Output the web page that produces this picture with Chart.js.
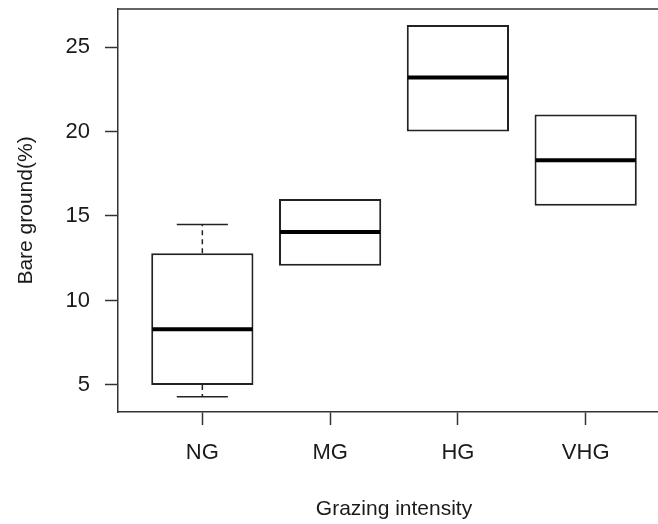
<!DOCTYPE html>
<html>
<head>
<meta charset="utf-8">
<script src="https://cdn.jsdelivr.net/npm/chart.js@4.4.1/dist/chart.umd.min.js"></script>
<style>
  html, body { margin: 0; padding: 0; background: #fff; overflow: hidden; }
  #wrap { width: 672px; height: 524px; }
</style>
</head>
<body>
<div id="wrap"><canvas id="myChart" width="672" height="524"></canvas></div>
<script>
// box plot values
const categories = ['NG', 'MG', 'HG', 'VHG']
const lowWhisker = [4.3, 12.05, 20.0, 15.6]
const q1 = [5.0, 12.05, 20.0, 15.6]
const median = [8.3, 14.05, 23.2, 18.3]
const q3 = [12.8, 16.0, 26.3, 21.0]
const highWhisker = [14.5, 16.0, 26.3, 21.0]
const yTicks = [5, 10, 15, 20, 25]
const yMin = 3.40
const yMax = 27.25

const ink = '#1a1a1a'
const titleFont = { family: "'Liberation Sans', Arial, sans-serif", size: 21 }
const tickFont = { family: "'Liberation Sans', Arial, sans-serif", size: 22 }

// medians, whiskers and the top frame line
const boxExtras = {
    id: 'boxExtras',
    afterDatasetsDraw(chart) {
        const ctx = chart.ctx
        const xs = chart.scales.x
        const ys = chart.scales.y
        const bars = chart.getDatasetMeta(0).data
        ctx.save()
        for (let i = 0; i < categories.length; i++) {
            const x = xs.getPixelForValue(i + 1)
            const half = bars[i].width / 2
            ctx.strokeStyle = '#222'
            ctx.lineWidth = 1.5
            const ends = [[q3[i], highWhisker[i]], [q1[i], lowWhisker[i]]]
            ends.forEach(([from, to]) => {
                if (from === to) return
                const fy = ys.getPixelForValue(from)
                const ty = ys.getPixelForValue(to)
                // dashed whisker
                ctx.setLineDash([5, 4])
                ctx.beginPath()
                ctx.moveTo(x, fy)
                ctx.lineTo(x, ty)
                ctx.stroke()
                ctx.setLineDash([])
                // staple
                ctx.beginPath()
                ctx.moveTo(x - half / 2, ty)
                ctx.lineTo(x + half / 2, ty)
                ctx.stroke()
            })
            // median
            ctx.lineWidth = 4
            ctx.strokeStyle = '#000'
            const my = ys.getPixelForValue(median[i])
            ctx.beginPath()
            ctx.moveTo(x - half + 1, my)
            ctx.lineTo(x + half - 1, my)
            ctx.stroke()
        }
        // frame top and right
        const a = chart.chartArea
        ctx.lineWidth = 1.5
        ctx.strokeStyle = '#333'
        ctx.beginPath()
        ctx.moveTo(a.left, a.top)
        ctx.lineTo(a.right, a.top)
        ctx.lineTo(a.right, a.bottom)
        ctx.stroke()
        ctx.restore()
    }
}

const ctx = document.getElementById('myChart')
new Chart(ctx, {
    type: 'bar',
    data: {
        datasets: [{
            data: categories.map((c, i) => ({ x: i + 1, y: [q1[i], q3[i]] })),
            backgroundColor: '#fff',
            borderColor: '#222',
            borderWidth: 2,
            borderSkipped: false,
            barPercentage: 0.8,
            categoryPercentage: 1.0
        }]
    },
    options: {
        responsive: false,
        animation: false,
        layout: { padding: { top: 9, right: 2, left: 0, bottom: 0 } },
        plugins: { legend: { display: false }, tooltip: { enabled: false } },
        scales: {
            x: {
                type: 'linear',
                offset: false,
                min: 0.34,
                max: 4.66,
                afterBuildTicks: (s) => { s.ticks = categories.map((c, i) => ({ value: i + 1 })) },
                afterFit: (s) => { s.height = 112; s.paddingLeft = 0; s.paddingRight = 0 },
                grid: { offset: false, drawOnChartArea: false, drawTicks: true, tickLength: 13, tickColor: '#333', tickWidth: 1.5 },
                border: { display: true, color: '#333', width: 1.5 },
                ticks: {
                    padding: 15,
                    color: ink,
                    font: tickFont,
                    maxRotation: 0,
                    autoSkip: false,
                    callback: (v) => categories[v - 1]
                },
                title: { display: true, text: 'Grazing intensity', color: ink, font: titleFont, padding: { top: 0, bottom: 2 } }
            },
            y: {
                min: yMin,
                max: yMax,
                afterBuildTicks: (s) => { s.ticks = yTicks.map(v => ({ value: v })) },
                afterFit: (s) => { s.width = 118; s.paddingTop = 0; s.paddingBottom = 0 },
                grid: { drawOnChartArea: false, drawTicks: true, tickLength: 13, tickColor: '#333', tickWidth: 1.5 },
                border: { display: true, color: '#333', width: 1.5 },
                ticks: { padding: 15, color: ink, font: tickFont },
                title: { display: true, text: 'Bare ground(%)', color: ink, font: titleFont, padding: { top: 14, bottom: 0 } }
            }
        }
    },
    plugins: [boxExtras]
})
</script>
</body>
</html>
